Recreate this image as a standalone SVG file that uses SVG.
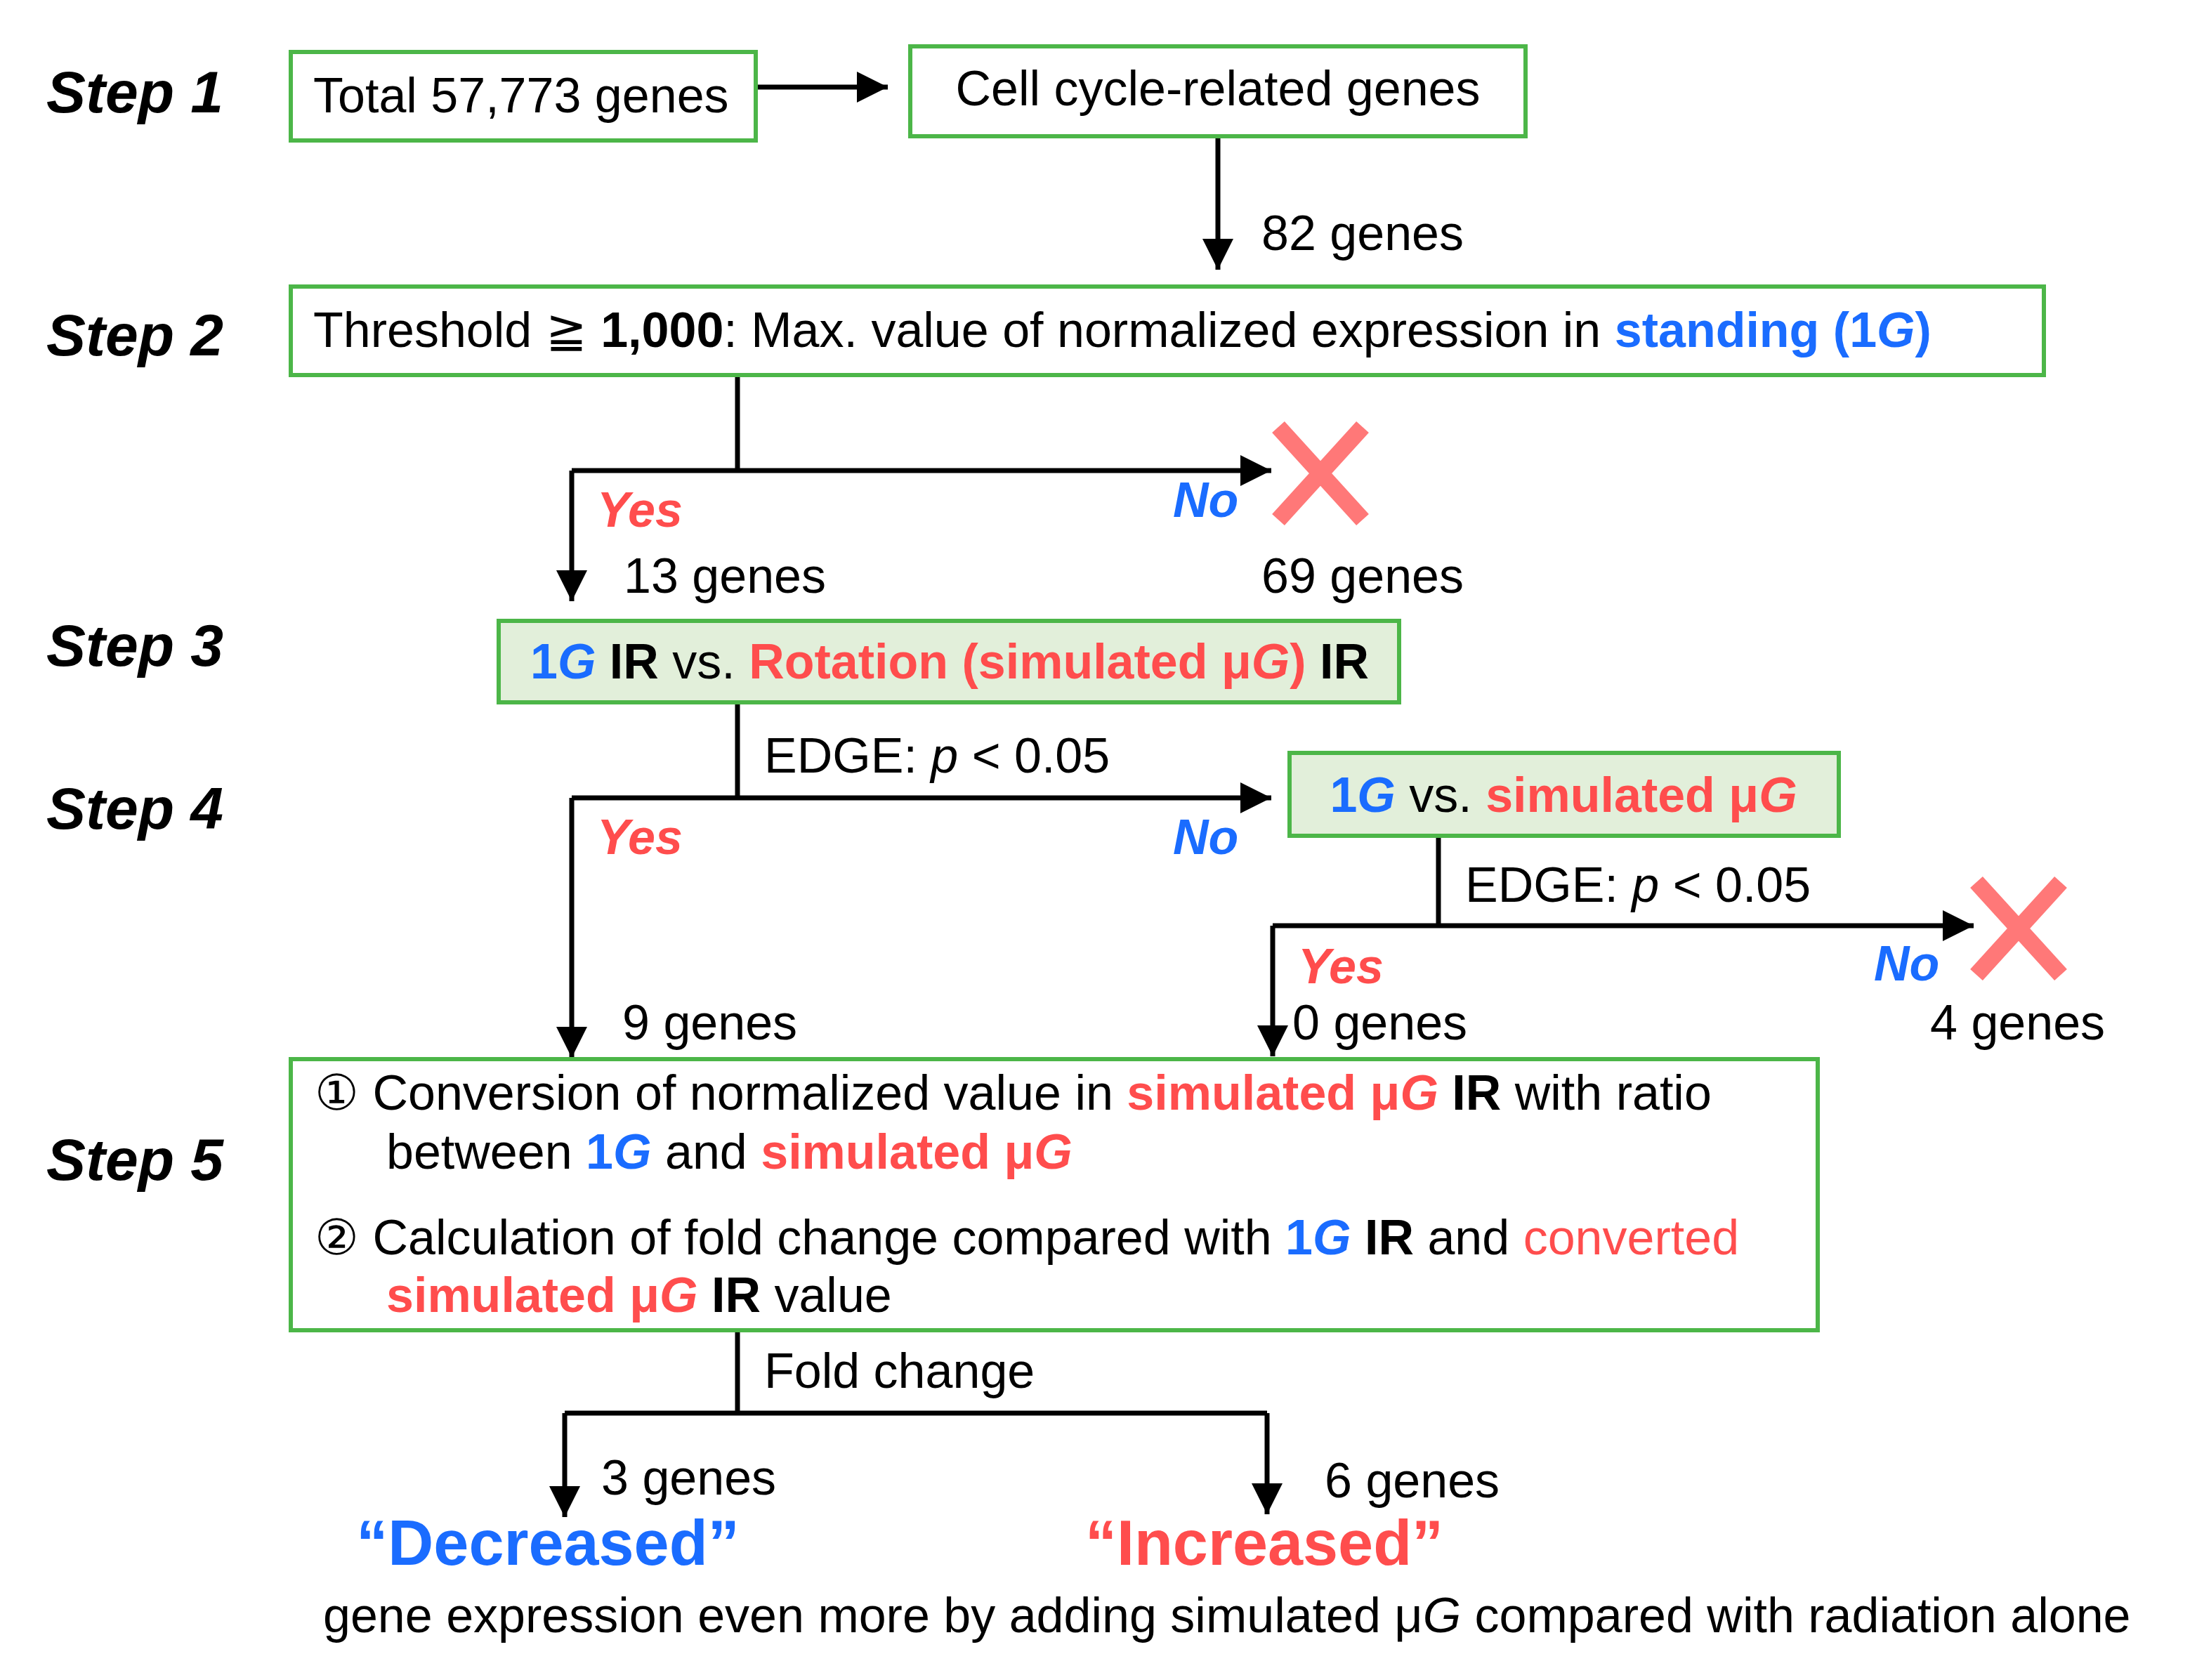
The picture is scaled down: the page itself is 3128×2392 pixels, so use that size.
<svg xmlns="http://www.w3.org/2000/svg" width="3128" height="2392" viewBox="0 0 3128 2392">
<style>
text{font-family:"Liberation Sans",Arial,sans-serif;font-size:35px;fill:#000}
.step{font-size:42px;font-weight:bold;font-style:italic}
.box{fill:#fff;stroke:#4cb648;stroke-width:3}
.gbox{fill:#e2efda;stroke:#4cb648;stroke-width:3}
.ln{fill:none;stroke:#000;stroke-width:3.5}
.ar{marker-end:url(#ah)}
.b{fill:#1a6cff;font-weight:bold}
.r{fill:#ff4d4d;font-weight:bold}
.yes{fill:#ff4d4d;font-weight:bold;font-style:italic}
.no{fill:#1a6cff;font-weight:bold;font-style:italic}
.big{font-size:45px;font-weight:bold}
.bigb{fill:#1a6cff}
.bigr{fill:#ff4d4d}
.x{stroke:#ff7878;stroke-width:12;stroke-linecap:butt}
</style>
<defs>
<marker id="ah" markerUnits="userSpaceOnUse" markerWidth="24" markerHeight="22" refX="22" refY="11" orient="auto">
<path d="M0,0 L22,11 L0,22 Z" fill="#000"/>
</marker>
</defs>
<rect width="3128" height="2392" fill="#fff"/>
<g transform="scale(2)">
<g id="steps">
<text class="step" x="33" y="80">Step 1</text>
<text class="step" x="33" y="253">Step 2</text>
<text class="step" x="33" y="474">Step 3</text>
<text class="step" x="33" y="590">Step 4</text>
<text class="step" x="33" y="840">Step 5</text>
</g>
<g id="connectors">
<path class="ln ar" d="M538,62 H632"/>
<path class="ln ar" d="M867,97 V192"/>
<path class="ln" d="M525,267 V335"/>
<path class="ln ar" d="M407,335 H905"/>
<path class="ln ar" d="M407,335 V428"/>
<path class="ln" d="M525,500 V568"/>
<path class="ln ar" d="M407,568 H905"/>
<path class="ln ar" d="M407,568 V753"/>
<path class="ln" d="M1024,595 V659"/>
<path class="ln ar" d="M906,659 H1405"/>
<path class="ln ar" d="M906,659 V752"/>
<path class="ln" d="M525,947 V1006"/>
<path class="ln" d="M402,1006 H902"/>
<path class="ln ar" d="M402,1006 V1080"/>
<path class="ln ar" d="M902,1006 V1078"/>
</g>
<g id="n1"><rect class="box" x="207" y="37" width="331" height="63"/><text x="223" y="80">Total 57,773 genes</text></g>
<g id="n2"><rect class="box" x="648" y="33" width="438" height="64"/><text x="867" y="75" text-anchor="middle">Cell cycle-related genes</text></g>
<g id="n3"><rect class="box" x="207" y="204" width="1248" height="63"/><text x="223" y="247">Threshold ≧ <tspan font-weight="bold">1,000</tspan>: Max. value of normalized expression in <tspan class="b">standing (1<tspan font-style="italic">G</tspan>)</tspan></text></g>
<g id="n4"><rect class="gbox" x="355" y="442" width="641" height="58"/><text x="676" y="483" text-anchor="middle" font-weight="bold"><tspan class="b">1<tspan font-style="italic">G</tspan></tspan> IR <tspan font-weight="normal">vs.</tspan> <tspan class="r">Rotation (simulated μ<tspan font-style="italic">G</tspan>)</tspan> IR</text></g>
<g id="n5"><rect class="gbox" x="918" y="536" width="391" height="59"/><text x="1113" y="578" text-anchor="middle"><tspan class="b">1<tspan font-style="italic">G</tspan></tspan> vs. <tspan class="r">simulated μ<tspan font-style="italic">G</tspan></tspan></text></g>
<g id="n6"><rect class="box" x="207" y="754" width="1087" height="193"/>
<text x="224" y="790">① Conversion of normalized value in <tspan class="r">simulated μ<tspan font-style="italic">G</tspan></tspan> <tspan font-weight="bold">IR</tspan> with ratio</text>
<text x="275" y="832">between <tspan class="b">1<tspan font-style="italic">G</tspan></tspan> and <tspan class="r">simulated μ<tspan font-style="italic">G</tspan></tspan></text>
<text x="224" y="893">② Calculation of fold change compared with <tspan class="b">1<tspan font-style="italic">G</tspan></tspan> <tspan font-weight="bold">IR</tspan> and <tspan fill="#ff4d4d">converted</tspan></text>
<text x="275" y="934"><tspan class="r">simulated μ<tspan font-style="italic">G</tspan></tspan> <tspan font-weight="bold">IR</tspan> value</text>
</g>
<g id="x1"><path class="x" d="M910,304 L970,370 M970,304 L910,370"/></g>
<g id="x2"><path class="x" d="M1407,628 L1467,694 M1467,628 L1407,694"/></g>
<g id="labels">
<text x="898" y="178">82 genes</text>
<text class="yes" x="425" y="375">Yes</text>
<text class="no" x="835" y="368">No</text>
<text x="444" y="422">13 genes</text>
<text x="898" y="422">69 genes</text>
<text x="544" y="550">EDGE: <tspan font-style="italic">p</tspan> &lt; 0.05</text>
<text class="yes" x="425" y="608">Yes</text>
<text class="no" x="835" y="608">No</text>
<text x="1043" y="642">EDGE: <tspan font-style="italic">p</tspan> &lt; 0.05</text>
<text class="yes" x="924" y="700">Yes</text>
<text class="no" x="1334" y="698">No</text>
<text x="443" y="740">9 genes</text>
<text x="920" y="740">0 genes</text>
<text x="1374" y="740">4 genes</text>
<text x="544" y="988">Fold change</text>
<text x="428" y="1064">3 genes</text>
<text x="943" y="1066">6 genes</text>
<text class="big bigb" x="390" y="1114" text-anchor="middle">“Decreased”</text>
<text class="big bigr" x="900" y="1114" text-anchor="middle">“Increased”</text>
<text x="230" y="1162">gene expression even more by adding simulated μ<tspan font-style="italic">G</tspan> compared with radiation alone</text>
</g>
</g>
</svg>
